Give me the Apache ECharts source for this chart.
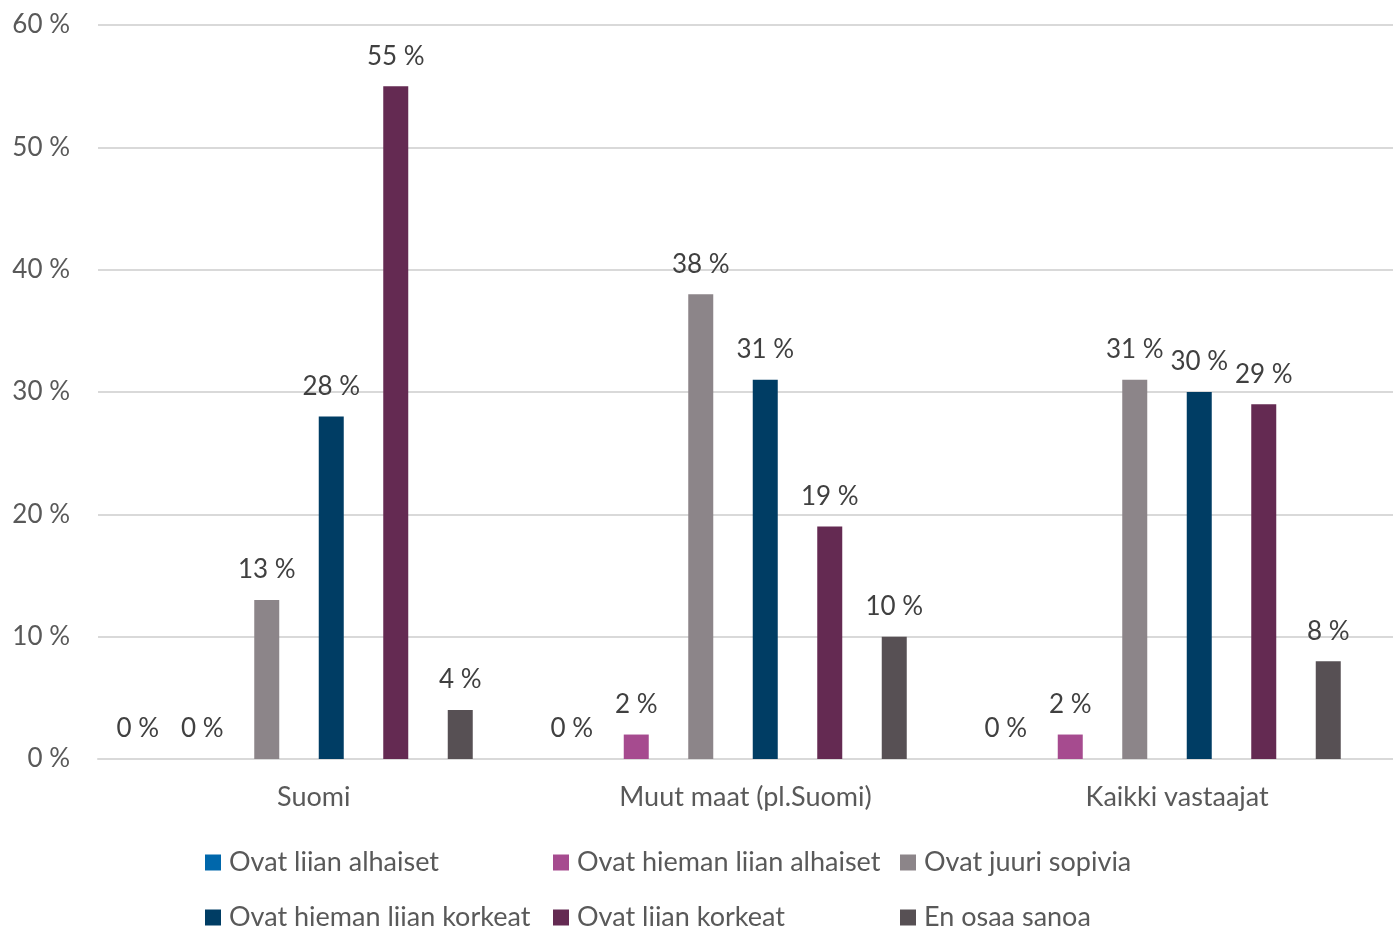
<!DOCTYPE html>
<html>
<head>
<meta charset="utf-8">
<script src="https://cdn.jsdelivr.net/npm/echarts@6/dist/echarts.min.js"></script>
<style>
  html, body { margin: 0; padding: 0; background: #fff; }
  #chart { width: 1393px; height: 931px; }
</style>
</head>
<body>
<div id="chart"></div>
<script>
var categories = ["Suomi", "Muut maat (pl.Suomi)", "Kaikki vastaajat"];
var seriesNames = [
  "Ovat liian alhaiset",
  "Ovat hieman liian alhaiset",
  "Ovat juuri sopivia",
  "Ovat hieman liian korkeat",
  "Ovat liian korkeat",
  "En osaa sanoa"
];
var liianAlhaiset = [0, 0, 0];
var hiemanAlhaiset = [0, 2, 2];
var juuriSopivia = [13, 38, 31];
var hiemanKorkeat = [28, 31, 30];
var liianKorkeat = [55, 19, 29];
var enOsaa = [4, 10, 8];
var colors = ["#0067ab", "#a64b8f", "#8c8589", "#003d64", "#642a52", "#575054"];

var font = "Lato";
var seriesData = [liianAlhaiset, hiemanAlhaiset, juuriSopivia, hiemanKorkeat, liianKorkeat, enOsaa];

var series = seriesData.map(function (d, i) {
  return {
    name: seriesNames[i],
    type: "bar",
    xAxisIndex: 1,
    yAxisIndex: 1,
    data: d,
    barWidth: 25,
    barGap: "158%",
    itemStyle: { color: colors[i] },
    label: {
      show: true,
      position: "top",
      distance: 17,
      formatter: "{c} %",
      color: "#404040",
      fontFamily: font,
      fontSize: 26
    }
  };
});

// legend laid out as a 3 x 2 table, one legend per entry
var legendLefts = [200, 548, 895];
var legendTops = [844, 899];
var legends = seriesNames.map(function (name, i) {
  return {
    data: [name],
    left: legendLefts[i % 3],
    top: legendTops[Math.floor(i / 3)],
    itemWidth: 16,
    itemHeight: 16,
    icon: "rect",
    selectedMode: false,
    textStyle: {
      color: "#595959",
      fontFamily: font,
      fontSize: 27,
      padding: [0, 0, 0, 3]
    }
  };
});

var myChart = echarts.init(document.getElementById("chart"));
var option = {
  backgroundColor: "#fff",
  animation: false,
  color: colors,
  grid: [
    { left: 98, top: 25, width: 1302, height: 734 },
    { left: 82, top: 25, width: 1302, height: 734 }
  ],
  legend: legends,
  xAxis: [
    {
      type: "category",
      gridIndex: 0,
      data: categories,
      axisLine: { lineStyle: { color: "#d9d9d9", width: 2 } },
      axisTick: { show: false },
      axisLabel: {
        margin: 25,
        color: "#595959",
        fontFamily: font,
        fontSize: 27
      }
    },
    {
      type: "category",
      gridIndex: 1,
      data: categories,
      show: false
    }
  ],
  yAxis: [
    {
      type: "value",
      gridIndex: 0,
      min: 0,
      max: 60,
      interval: 10,
      axisLine: { show: false },
      axisTick: { show: false },
      splitLine: { lineStyle: { color: "#d9d9d9", width: 2 } },
      axisLabel: {
        margin: 28,
        formatter: "{value} %",
        color: "#595959",
        fontFamily: font,
        fontSize: 26
      }
    },
    {
      type: "value",
      gridIndex: 1,
      min: 0,
      max: 60,
      interval: 10,
      show: false,
      splitLine: { show: false }
    }
  ],
  series: series
};

option && myChart.setOption(option);
</script>
</body>
</html>
